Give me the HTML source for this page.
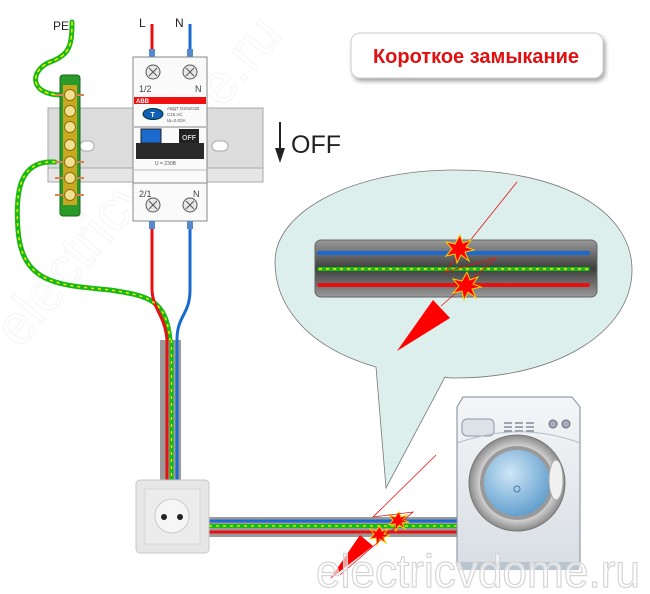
<!DOCTYPE html>
<html><head><meta charset="utf-8"><style>
html,body{margin:0;padding:0;background:#fff;}
svg{display:block;font-family:"Liberation Sans",sans-serif;}
</style></head><body>
<svg width="650" height="594" viewBox="0 0 650 594" xmlns="http://www.w3.org/2000/svg">
<defs>
<linearGradient id="cab" x1="0" y1="0" x2="0" y2="1">
<stop offset="0" stop-color="#9a9a9a"/><stop offset="0.5" stop-color="#3e3e3e"/><stop offset="1" stop-color="#9a9a9a"/></linearGradient>
<linearGradient id="wm" x1="0" y1="0" x2="0" y2="1">
<stop offset="0" stop-color="#f4f6f8"/><stop offset="1" stop-color="#d9dee4"/></linearGradient>
<radialGradient id="glass" cx="0.4" cy="0.35" r="0.7">
<stop offset="0" stop-color="#cfe6f6"/><stop offset="1" stop-color="#5d9ccc"/></radialGradient>
<radialGradient id="ring" cx="0.5" cy="0.5" r="0.5">
<stop offset="0.7" stop-color="#e8e8e8"/><stop offset="1" stop-color="#8a8a8a"/></radialGradient>
<filter id="sh" x="-10%" y="-20%" width="130%" height="160%"><feDropShadow dx="2" dy="3" stdDeviation="2" flood-color="#000" flood-opacity="0.35"/></filter>
</defs>

<text x="0" y="0" transform="translate(20,350) rotate(-50)" font-size="56" fill="none" stroke="#f5f5f5" stroke-width="1">electricvdome.ru</text>

<!-- title -->
<rect x="351" y="33" width="252" height="45" rx="9" fill="#fff" stroke="#ccc" filter="url(#sh)"/>
<text x="476" y="63" text-anchor="middle" font-size="20" font-weight="bold" fill="#e01010">Короткое замыкание</text>

<!-- DIN rail -->
<rect x="48" y="108" width="215" height="74" fill="#dcdcdc" stroke="#aaa"/>
<rect x="48" y="168" width="215" height="14" fill="#e6e6e6" stroke="#aaa"/>
<rect x="80" y="141" width="14" height="10" rx="5" fill="#fff" stroke="#aaa"/>
<rect x="212" y="141" width="16" height="10" rx="5" fill="#fff" stroke="#aaa"/>

<!-- OFF -->
<line x1="280" y1="122" x2="280" y2="152" stroke="#222" stroke-width="2"/>
<polygon points="275,148 285,148 280,163" fill="#222"/>
<text x="291" y="153" font-size="25" fill="#222">OFF</text>

<!-- PE wires -->
<g fill="none" stroke-linecap="round">
<path d="M72,22 C72,45 70,55 50,62 C30,70 28,95 62,95" stroke="#18b818" stroke-width="5"/>
<path d="M72,22 C72,45 70,55 50,62 C30,70 28,95 62,95" stroke="#f4f000" stroke-width="1.5" stroke-dasharray="3,4"/>
<path d="M55,162 C20,160 15,190 18,230 C22,285 60,285 110,290 C150,296 166,300 170,340 L171,480" stroke="#18b818" stroke-width="5"/>
</g>
<text x="53" y="30" font-size="12" fill="#222">PE</text>
<text x="139" y="27" font-size="12" fill="#222">L</text>
<text x="175" y="27" font-size="12" fill="#222">N</text>

<!-- terminal block -->
<rect x="60" y="75" width="20" height="141" rx="3" fill="#2a9a2a" stroke="#1a6a1a"/>
<rect x="63" y="85" width="14" height="120" fill="#c8a820"/>
<g stroke="#d08850" stroke-width="2">
<line x1="55" y1="95" x2="84" y2="95"/><line x1="55" y1="162" x2="84" y2="162"/><line x1="55" y1="178" x2="84" y2="178"/><line x1="55" y1="195" x2="84" y2="195"/>
</g>
<g fill="#f0e090" stroke="#8a7010" stroke-width="1">
<circle cx="70" cy="95" r="5.5"/><circle cx="70" cy="111" r="5.5"/><circle cx="70" cy="127" r="5.5"/><circle cx="70" cy="145" r="5.5"/><circle cx="70" cy="162" r="5.5"/><circle cx="70" cy="178" r="5.5"/><circle cx="70" cy="195" r="5.5"/>
</g>

<!-- L/N top wires -->
<line x1="152" y1="24" x2="152" y2="52" stroke="#e81010" stroke-width="3"/>
<line x1="190" y1="24" x2="190" y2="52" stroke="#1a6ad0" stroke-width="3"/>
<rect x="149" y="49" width="6" height="8" fill="#5588cc"/>
<rect x="187" y="49" width="6" height="8" fill="#5588cc"/>

<!-- breaker -->
<rect x="133" y="57" width="74" height="164" fill="#fafafa" stroke="#888"/>
<line x1="133" y1="183" x2="207" y2="183" stroke="#888"/>
<g fill="#e8e8e8" stroke="#555"><circle cx="153" cy="72" r="7"/><circle cx="190" cy="72" r="7"/><circle cx="153" cy="205" r="7"/><circle cx="190" cy="205" r="7"/></g>
<g stroke="#555" stroke-width="1"><path d="M149,68 l8,8 M157,68 l-8,8 M186,68 l8,8 M194,68 l-8,8 M149,201 l8,8 M157,201 l-8,8 M186,201 l8,8 M194,201 l-8,8"/></g>
<text x="139" y="92" font-size="9" fill="#444">1/2</text><text x="195" y="92" font-size="9" fill="#444">N</text>
<text x="139" y="197" font-size="9" fill="#444">2/1</text><text x="193" y="197" font-size="9" fill="#444">N</text>
<rect x="134" y="97" width="72" height="7" fill="#f01010"/>
<text x="136" y="103" font-size="6" font-weight="bold" fill="#fff">ABB</text>
<ellipse cx="153" cy="114" rx="10" ry="5.5" fill="#1060b8" stroke="#033"/>
<text x="150.5" y="117" font-size="7" font-weight="bold" fill="#fff">T</text>
<text x="167" y="110" font-size="4.5" fill="#555">АВДТ   DS9201B</text>
<text x="167" y="116" font-size="4.5" fill="#555">C16  AC</text>
<text x="167" y="122" font-size="4.5" fill="#555">IΔ=0.03A</text>
<line x1="134" y1="127" x2="206" y2="127" stroke="#888"/>
<rect x="141" y="129" width="20" height="14" fill="#1a6ad0" stroke="#222"/>
<rect x="179" y="129" width="20" height="14" fill="#222"/>
<text x="182" y="140" font-size="7" font-weight="bold" fill="#ccc">OFF</text>
<rect x="136" y="143" width="68" height="16" fill="#2a2a2a"/>
<text x="155" y="165" font-size="5" fill="#555">U = 230B</text>
<line x1="134" y1="170" x2="206" y2="170" stroke="#bbb"/>

<!-- bottom wires -->
<rect x="149" y="221" width="6" height="8" fill="#5588cc"/>
<rect x="187" y="221" width="6" height="8" fill="#5588cc"/>
<g fill="none">
<path d="M152,229 L152,290 C153,310 165,315 167,340 L167,480" stroke="#e81010" stroke-width="3"/>
<path d="M190,229 L190,290 C190,315 177,315 177,340 L177,480" stroke="#1a6ad0" stroke-width="3"/>
</g>
<!-- conduit vertical -->
<rect x="160" y="340" width="21" height="142" fill="#9a9a9a"/>
<line x1="167" y1="340" x2="167" y2="482" stroke="#e81010" stroke-width="3"/>
<line x1="171.5" y1="340" x2="171.5" y2="482" stroke="#18b818" stroke-width="4"/>
<line x1="171.5" y1="340" x2="171.5" y2="482" stroke="#f4f000" stroke-width="1.2" stroke-dasharray="3,4"/>
<line x1="177" y1="340" x2="177" y2="482" stroke="#1a6ad0" stroke-width="3"/>
<path d="M55,162 C20,160 15,190 18,230 C22,285 60,285 110,290 C150,296 166,300 170,340" fill="none" stroke="#f4f000" stroke-width="1.5" stroke-dasharray="3,4"/>

<!-- horizontal conduit -->
<rect x="209" y="517" width="250" height="20" fill="#9a9a9a"/>
<line x1="209" y1="521" x2="459" y2="521" stroke="#1a6ad0" stroke-width="3"/>
<line x1="209" y1="526" x2="459" y2="526" stroke="#18b818" stroke-width="4"/>
<line x1="209" y1="526" x2="459" y2="526" stroke="#f4f000" stroke-width="1.2" stroke-dasharray="3,4"/>
<line x1="209" y1="532" x2="459" y2="532" stroke="#e81010" stroke-width="3"/>

<!-- socket -->
<rect x="136" y="480" width="73" height="73" rx="4" fill="#e6e6e6" stroke="#c8c8c8"/>
<rect x="145" y="489" width="55" height="55" fill="#ececec" stroke="#d8d8d8"/>
<circle cx="172" cy="516" r="17" fill="#f6f6f6" stroke="#ccc"/>
<circle cx="164" cy="517" r="3" fill="#222"/><circle cx="180" cy="517" r="3" fill="#222"/>

<!-- bubble -->
<path d="M376,367 C300,345 275,300 275,262 C275,210 355,170 455,170 C560,170 632,210 632,270 C632,330 560,378 455,378 C450,378 447,378 445,377 L386,488 Z" fill="#dcefed" stroke="#777" stroke-width="0.8"/>
<rect x="315" y="240" width="282" height="57" rx="6" fill="url(#cab)" stroke="#666"/>
<line x1="319" y1="253" x2="588" y2="253" stroke="#1a6ad0" stroke-width="4" stroke-linecap="round"/>
<line x1="319" y1="269" x2="588" y2="269" stroke="#18b818" stroke-width="4" stroke-linecap="round"/>
<line x1="319" y1="269" x2="588" y2="269" stroke="#f4f000" stroke-width="1.5" stroke-dasharray="3,4"/>
<line x1="319" y1="285" x2="588" y2="285" stroke="#e81010" stroke-width="4" stroke-linecap="round"/>
<polyline points="517,182 445,272 496,258 441,306" fill="none" stroke="#e81010" stroke-width="0.8"/>
<polygon points="433,300 450,318 397,351" fill="#f00"/>
<g fill="#f00" stroke="#f4d000" stroke-width="1">
<polygon points="460,235 463,243 471,240 466,247 474,250 465,252 469,261 461,255 457,263 455,254 446,256 452,249 446,242 455,244"/>
<polygon points="467,272 470,280 478,277 473,284 481,287 472,289 476,298 468,292 464,300 462,291 453,293 459,286 453,279 462,281"/>
<polygon points="399,512 401,517 407,515 403,520 409,522 402,523 405,529 399,525 396,531 395,524 389,525 393,520 389,515 395,517"/>
<polygon points="380,526 382,531 388,529 384,534 390,536 383,537 386,543 380,539 377,545 376,538 370,539 374,534 370,529 376,531"/>
</g>
<polyline points="436,455 373,517 413,512 340,575" fill="none" stroke="#e81010" stroke-width="0.8"/>
<polygon points="360,535 373,546 330,579" fill="#f00"/>

<!-- washer -->
<path d="M463,397 L572,397 L580,407 L580,566 L457,566 L457,407 Z" fill="url(#wm)" stroke="#7a8a9a"/>
<rect x="459" y="562" width="120" height="8" fill="#b8c4d0"/>
<rect x="462" y="419" width="32" height="17" rx="5" fill="#dde2e8" stroke="#8a99a8"/>
<g stroke="#6a7888" stroke-width="1.2"><path d="M504,423h8M504,427h8M504,431h8M515,423h8M515,427h8M515,431h8M526,423h8M526,427h8M526,431h8"/></g>
<circle cx="553" cy="424" r="4" fill="#aab" stroke="#667"/><circle cx="566" cy="424" r="4" fill="#aab" stroke="#667"/>
<path d="M457,443 C500,428 540,428 580,443" fill="none" stroke="#b0bcc8"/>
<circle cx="517" cy="483" r="48" fill="url(#ring)" stroke="#777"/>
<circle cx="517" cy="483" r="37" fill="#9a9a9a"/>
<circle cx="517" cy="483" r="33" fill="url(#glass)"/>
<circle cx="517" cy="489" r="3" fill="none" stroke="#4a7aa0"/>
<ellipse cx="556" cy="480" rx="7" ry="20" fill="#f0f0f0" stroke="#aaa"/>

<!-- bottom watermark -->
<text x="316" y="587" font-size="46" fill="#fff" fill-opacity="0.6" stroke="#d4d4d4" stroke-width="1.2" textLength="324" lengthAdjust="spacingAndGlyphs">electricvdome.ru</text>
</svg>
</body></html>
